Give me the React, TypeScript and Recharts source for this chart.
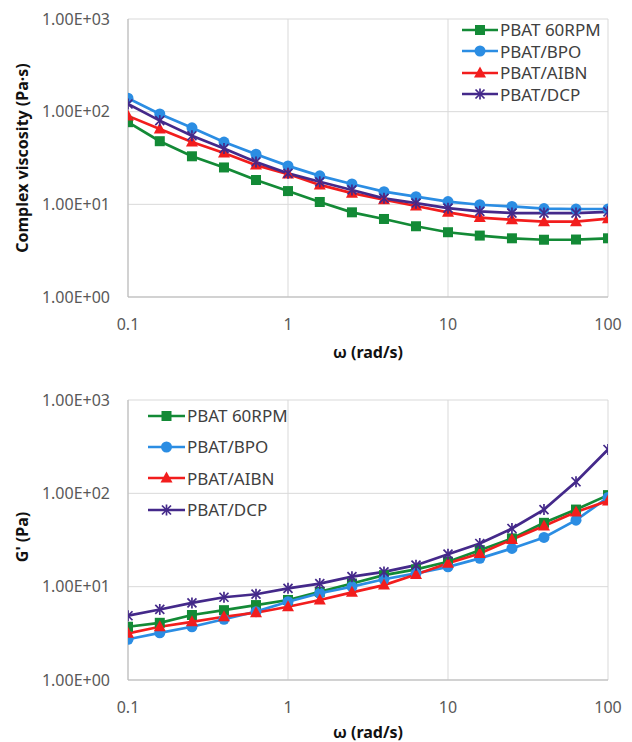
import React from 'react';
import { LineChart, Line, XAxis, YAxis, CartesianGrid, Legend } from 'recharts';

// angular frequency (rad/s), 5 points per decade
const omega = [0.1, 0.158, 0.251, 0.398, 0.631, 1, 1.58, 2.51, 3.98, 6.31, 10, 15.8, 25.1, 39.8, 63.1, 100];

// complex viscosity (Pa·s)
const etaRpm = [77, 48, 33, 25, 18.3, 13.9, 10.6, 8.2, 6.95, 5.8, 5.0, 4.6, 4.3, 4.15, 4.17, 4.3];
const etaBpo = [140, 94.5, 67, 47, 34.7, 26, 20.3, 16.6, 13.7, 12.1, 10.7, 9.9, 9.5, 9.0, 8.9, 8.9];
const etaAibn = [90, 65, 47, 35.8, 26.5, 21.2, 16.2, 13.2, 11.2, 9.6, 8.2, 7.2, 6.8, 6.5, 6.5, 7.0];
const etaDcp = [121, 80, 55, 40, 28.7, 21.6, 17.5, 14.3, 11.6, 10.3, 9.1, 8.4, 8.05, 8.05, 8.05, 8.3];

// storage modulus G' (Pa)
const gRpm = [3.72, 4.1, 4.97, 5.6, 6.35, 7.2, 8.8, 10.8, 13.3, 15.3, 18.5, 24.6, 32.9, 48.3, 67, 95.7];
const gBpo = [2.73, 3.2, 3.72, 4.47, 5.4, 6.9, 8.5, 10, 12, 13.9, 16.3, 20.1, 25.7, 33.7, 51.6, 90.4];
const gAibn = [3.16, 3.72, 4.2, 4.76, 5.26, 6.1, 7.2, 8.7, 10.4, 13.5, 17.8, 22.7, 32, 44.6, 63, 83];
const gDcp = [4.88, 5.7, 6.7, 7.7, 8.3, 9.6, 10.8, 12.8, 14.4, 17, 22.3, 29, 42, 67, 133, 295];

const seriesNames = ['PBAT 60RPM', 'PBAT/BPO', 'PBAT/AIBN', 'PBAT/DCP'];

const xTicks = [0.1, 1, 10, 100];
const yTicks = [1, 10, 100, 1000];
const xMinor = [0.2, 0.3, 0.4, 0.5, 0.6, 0.7, 0.8, 0.9, 2, 3, 4, 5, 6, 7, 8, 9, 20, 30, 40, 50, 60, 70, 80, 90];
const yMinor = [2, 3, 4, 5, 6, 7, 8, 9, 20, 30, 40, 50, 60, 70, 80, 90, 200, 300, 400, 500, 600, 700, 800, 900];

const FONT = '"Noto Sans", sans-serif';
const AXIS_GRAY = '#b8b8b8';

const series = [
  { key: 's1', color: '#138a36', shape: 'square' },
  { key: 's2', color: '#2b8de3', shape: 'circle' },
  { key: 's3', color: '#f21d1d', shape: 'triangle' },
  { key: 's4', color: '#44298a', shape: 'star' },
];

const buildRows = (cols: number[][]) =>
  omega.map((w, i) => ({ w, s1: cols[0][i], s2: cols[1][i], s3: cols[2][i], s4: cols[3][i] }));

const viscRows = buildRows([etaRpm, etaBpo, etaAibn, etaDcp]);
const modRows = buildRows([gRpm, gBpo, gAibn, gDcp]);

const fmtSci = (v: number) => {
  const e = Math.round(Math.log10(v));
  return `1.00E+${e < 10 ? '0' : ''}${e}`;
};

const Marker = ({ shape, cx, cy, color }: { shape: string; cx: number; cy: number; color: string }) => {
  if (shape === 'square') return <rect x={cx - 5} y={cy - 5} width={10} height={10} fill={color} />;
  if (shape === 'circle') return <circle cx={cx} cy={cy} r={5.5} fill={color} />;
  if (shape === 'triangle')
    return <polygon points={`${cx},${cy - 6.5} ${cx + 6},${cy + 4.5} ${cx - 6},${cy + 4.5}`} fill={color} />;
  return (
    <g stroke={color} strokeWidth={1.7}>
      <line x1={cx - 4.5} y1={cy - 4.5} x2={cx + 4.5} y2={cy + 4.5} />
      <line x1={cx - 4.5} y1={cy + 4.5} x2={cx + 4.5} y2={cy - 4.5} />
      <line x1={cx} y1={cy - 5.5} x2={cx} y2={cy + 5.5} />
    </g>
  );
};

const makeDot = (shape: string, color: string) => (props: any) => {
  const { cx, cy, index } = props;
  if (cx == null || cy == null) return <g key={`d-${index}`} />;
  return (
    <g key={`d-${shape}-${index}`}>
      <Marker shape={shape} cx={cx} cy={cy} color={color} />
    </g>
  );
};

const LegendBox = ({ rowH, lineW }: { rowH: number; lineW: number }) => (
  <div style={{ fontFamily: FONT, fontSize: 17, color: '#404040', lineHeight: 1 }}>
    {series.map((s, i) => (
      <div key={s.key} style={{ display: 'flex', alignItems: 'center', height: rowH }}>
        <svg width={lineW} height={14} style={{ display: 'block' }}>
          <line x1={0} y1={7} x2={lineW} y2={7} stroke={s.color} strokeWidth={2.7} />
          <Marker shape={s.shape} cx={lineW / 2} cy={7} color={s.color} />
        </svg>
        <span style={{ marginLeft: 2, whiteSpace: 'nowrap' }}>{seriesNames[i]}</span>
      </div>
    ))}
  </div>
);

interface RheoProps {
  data: any[];
  height: number;
  marginTop: number;
  marginBottom: number;
  xAxisHeight: number;
  yTitle: string;
  yTitleCenter: number;
  legendLeft: number;
  legendTop: number;
  legendRow: number;
  legendLine: number;
}

const RheoChart: React.FC<RheoProps> = (p) => (
  <LineChart
    width={632}
    height={p.height}
    data={p.data}
    margin={{ top: p.marginTop, right: 24, left: 0, bottom: p.marginBottom }}
  >
    <CartesianGrid stroke="#d9d9d9" strokeWidth={1} />
    <XAxis
      dataKey="w"
      type="number"
      scale="log"
      domain={[0.1, 100]}
      ticks={xTicks}
      interval={0}
      allowDataOverflow
      height={p.xAxisHeight}
      tickLine={false}
      tickSize={0}
      tickMargin={22}
      axisLine={{ stroke: AXIS_GRAY }}
      tick={{ fill: '#595959', fontSize: 16, fontFamily: FONT }}
      tickFormatter={(v: number) => String(v)}
      label={{
        value: 'ω (rad/s)',
        position: 'insideBottom',
        offset: 4,
        fill: '#111',
        fontSize: 16,
        fontWeight: 700,
        fontFamily: FONT,
      }}
    />
    <XAxis
      xAxisId="minor"
      dataKey="w"
      type="number"
      scale="log"
      domain={[0.1, 100]}
      ticks={xMinor}
      interval={0}
      allowDataOverflow
      mirror
      height={0}
      axisLine={false}
      tickSize={4}
      tickLine={{ stroke: AXIS_GRAY }}
      tick={() => <g />}
    />
    <YAxis
      type="number"
      scale="log"
      domain={[1, 1000]}
      ticks={yTicks}
      interval={0}
      allowDataOverflow
      width={128}
      tickLine={false}
      tickSize={0}
      tickMargin={18}
      axisLine={{ stroke: AXIS_GRAY }}
      tick={{ fill: '#595959', fontSize: 16, fontFamily: FONT }}
      tickFormatter={fmtSci}
      label={{
        content: () => (
          <text
            x={22}
            y={p.yTitleCenter}
            transform={`rotate(-90 22 ${p.yTitleCenter})`}
            textAnchor="middle"
            dominantBaseline="central"
            fill="#111"
            fontSize={16}
            fontWeight={700}
            fontFamily={FONT}
          >
            {p.yTitle}
          </text>
        ),
      }}
    />
    <YAxis
      yAxisId="minor"
      type="number"
      scale="log"
      domain={[1, 1000]}
      ticks={yMinor}
      interval={0}
      allowDataOverflow
      mirror
      width={0}
      axisLine={false}
      tickSize={4}
      tickLine={{ stroke: AXIS_GRAY }}
      tick={() => <g />}
    />
    <Legend
      layout="vertical"
      align="center"
      verticalAlign="middle"
      wrapperStyle={{ left: p.legendLeft, top: p.legendTop, width: 170 }}
      content={() => <LegendBox rowH={p.legendRow} lineW={p.legendLine} />}
    />
    {series.map((s, i) => (
      <Line
        key={s.key}
        dataKey={s.key}
        name={seriesNames[i]}
        type="linear"
        stroke={s.color}
        strokeWidth={2.7}
        dot={makeDot(s.shape, s.color)}
        activeDot={false}
        isAnimationActive={false}
      />
    ))}
  </LineChart>
);

export default function App() {
  return (
    <div style={{ position: 'absolute', left: 0, top: 0, width: 632, height: 742, background: '#fff' }}>
      <RheoChart
        data={viscRows}
        height={370}
        marginTop={19}
        marginBottom={8}
        xAxisHeight={65}
        yTitle="Complex viscosity (Pa·s)"
        yTitleCenter={158}
        legendLeft={462}
        legendTop={19}
        legendRow={21.5}
        legendLine={36}
      />
      <RheoChart
        data={modRows}
        height={372}
        marginTop={30}
        marginBottom={0}
        xAxisHeight={62}
        yTitle="G' (Pa)"
        yTitleCenter={167}
        legendLeft={148}
        legendTop={30}
        legendRow={31.3}
        legendLine={37}
      />
    </div>
  );
}
